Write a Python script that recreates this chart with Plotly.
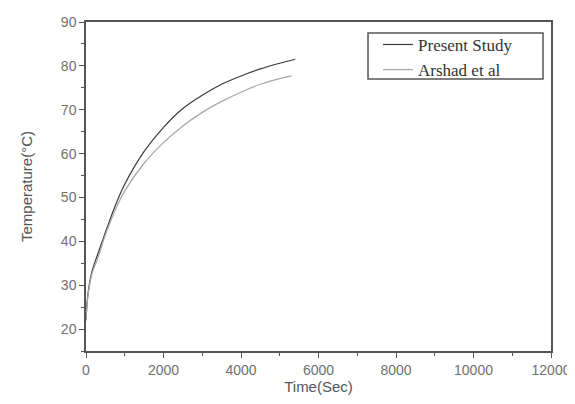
import plotly.graph_objects as go

time_present = [0, 50, 150, 300, 500, 750, 1000, 1500, 2000, 2500, 3000, 3500, 4000, 4500, 5000, 5400]
temp_present = [22, 28, 33, 37, 42, 48, 53, 60.5, 66, 70.3, 73.3, 75.8, 77.7, 79.3, 80.6, 81.5]

time_arshad = [0, 50, 150, 300, 500, 750, 1000, 1500, 2000, 2500, 3000, 3500, 4000, 4500, 5000, 5300]
temp_arshad = [22, 27.5, 32.5, 36, 41.5, 47, 51.5, 57.8, 62.5, 66.3, 69.4, 71.9, 74.0, 75.8, 77.1, 77.7]

x_ticks = [0, 2000, 4000, 6000, 8000, 10000, 12000]
x_tick_labels = ["0", "2000", "4000", "6000", "8000", "10000", "12000"]
y_ticks = [20, 30, 40, 50, 60, 70, 80, 90]

fig = go.Figure()
fig.add_trace(go.Scatter(x=time_present, y=temp_present, mode="lines", name="Present Study",
                         line=dict(color="#3a3a3a", width=1.2, shape="spline")))
fig.add_trace(go.Scatter(x=time_arshad, y=temp_arshad, mode="lines", name="Arshad et al",
                         line=dict(color="#a5a5a5", width=1.2, shape="spline")))

axis_common = dict(showline=True, linecolor="#555555", linewidth=1.5, mirror=True,
                   ticks="outside", ticklen=5, tickcolor="#555555", showgrid=False, zeroline=False,
                   automargin=False,
                   tickfont=dict(family="Liberation Sans, Arial", size=14, color="#707070"),
                   title_font=dict(family="Liberation Sans, Arial", size=15, color="#555555"))

fig.update_xaxes(range=[0, 12000], tickvals=x_ticks, ticktext=x_tick_labels, title_text="Time(Sec)",
                 minor=dict(dtick=1000, ticks="outside", ticklen=3, tickcolor="#555555"),
                 title_standoff=2, **axis_common)
fig.update_yaxes(range=[15, 90], tickvals=y_ticks, title_text="Temperature(°C)",
                 minor=dict(dtick=5, ticks="outside", ticklen=3, tickcolor="#555555"),
                 title_standoff=25, **axis_common)

# legend frame
fig.add_shape(type="rect", xref="paper", yref="paper",
              x0=0.6065, x1=0.9828, y0=0.8267, y1=0.9666,
              line=dict(color="#555555", width=1.5), fillcolor="rgba(0,0,0,0)", layer="above")

fig.update_layout(
    width=567, height=396,
    margin=dict(l=78, r=24, t=14, b=53),
    plot_bgcolor="white", paper_bgcolor="white",
    legend=dict(x=0.628, y=0.985, xanchor="left", yanchor="top",
                borderwidth=0, bgcolor="rgba(0,0,0,0)",
                font=dict(family="Liberation Serif, Times New Roman", size=17, color="#333333"),
                tracegroupgap=0, itemwidth=30),
    showlegend=True,
)

fig.write_html("out.html")
